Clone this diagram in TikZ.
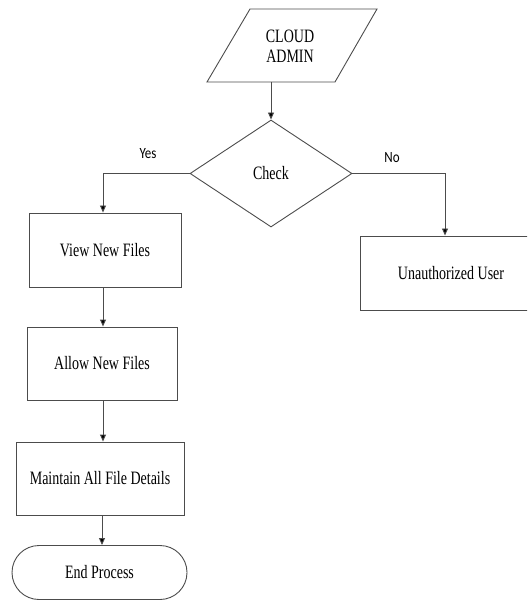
\documentclass[tikz,border=0pt]{standalone}
\usepackage{fontspec}
\usepackage{graphicx}
\setmainfont{Liberation Serif}
\newfontfamily\lblfont{Carlito}
\usetikzlibrary{shapes.geometric,arrows.meta}
\newcommand\vtx[1]{\scalebox{1}[1.35]{#1}}
\newcommand\vlb[1]{\scalebox{1}[1.2]{#1}}
\tikzset{
  line/.style={draw=black!70, line width=0.9pt},
  arr/.style={line, -{Triangle[width=6pt,length=7pt,fill=black]}},
  box/.style={line, rectangle, inner sep=0pt, minimum height=74pt, font=\fontsize{14}{17}\selectfont},
  lbl/.style={font=\lblfont\fontsize{13}{15}\selectfont, inner sep=0pt},
}
\begin{document}
\begin{tikzpicture}[x=1pt,y=-1pt]
\useasboundingbox (0,0) rectangle (527,601);
\clip (0,0) rectangle (527,601);
% parallelogram
\draw[line] (250,9) -- (377,9) -- (335,82) -- (207,82) -- cycle;
\node[font=\fontsize{14}{20}\selectfont, align=center, inner sep=0pt] (admin) at (290,46) {\vtx{CLOUD}\\\vtx{ADMIN}};
\coordinate (adminout) at (271,82);
% decision
\node[line, diamond, aspect=1.514, minimum width=162pt, minimum height=107pt, inner sep=0pt, font=\fontsize{14}{17}\selectfont] (check) at (271,173.5) {\vtx{Check}};
% boxes
\node[box, minimum width=152pt] (view) at (105,250) {\vtx{View New Files}};
\node[box, minimum width=150pt, minimum height=73pt] (allow) at (102,363.5) {\vtx{Allow New Files}};
\node[box, minimum width=168pt, minimum height=73pt] (maint) at (100,478.5) {\vtx{Maintain All File Details}};
\node[box, minimum width=182pt] (unauth) at (451,273) {\vtx{Unauthorized User}};
\node[line, rectangle, rounded corners=27pt, minimum width=175pt, minimum height=54pt, inner sep=0pt, font=\fontsize{14}{17}\selectfont] (endp) at (99.5,572.5) {\vtx{End Process}};
% connectors
\draw[arr] (adminout) -- (check.north);
\draw[arr] (check.west) -| (view.north -| 103,0);
\draw[arr] (check.east) -| (unauth.north -| 445,0);
\draw[arr] (view.south -| 103,0) -- (allow.north -| 103,0);
\draw[arr] (allow.south -| 103,0) -- (maint.north -| 103,0);
\draw[arr] (maint.south -| 102,0) -- (endp.north -| 102,0);
% labels
\node[lbl] (yes) at (148,154) {\vlb{Yes}};
\node[lbl] (no) at (392,158) {\vlb{No}};
\end{tikzpicture}
\end{document}
